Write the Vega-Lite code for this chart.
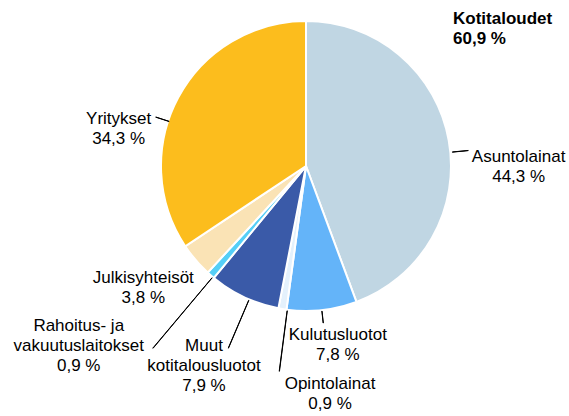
{
  "$schema": "https://vega.github.io/schema/vega-lite/v6.json",
  "width": 400,
  "height": 300,
  "autosize": {"type": "none"},
  "padding": {"left": 106, "top": 16, "right": 63, "bottom": 100},
  "background": "white",
  "config": {"view": {"stroke": null}, "font": "Liberation Sans"},
  "title": {
    "text": ["Kotitaloudet", "60,9 %"],
    "anchor": "start",
    "frame": "group",
    "align": "left",
    "baseline": "top",
    "dx": 347,
    "dy": 32,
    "offset": 0,
    "font": "Liberation Sans",
    "fontSize": 17,
    "fontWeight": "bold",
    "lineHeight": 20,
    "color": "#000000"
  },
  "data": {
    "values": [
      {"name": "Asuntolainat", "value": 44.3},
      {"name": "Kulutusluotot", "value": 7.8},
      {"name": "Opintolainat", "value": 0.9},
      {"name": "Muut\nkotitalousluotot", "value": 7.9},
      {"name": "Rahoitus- ja\nvakuutuslaitokset", "value": 0.9},
      {"name": "Julkisyhteisöt", "value": 3.8},
      {"name": "Yritykset", "value": 34.3}
    ]
  },
  "transform": [
    {"stack": "value", "groupby": [], "as": ["v0", "v1"]},
    {"calculate": "(datum.v0 + datum.v1) / 2", "as": "mid"},
    {"calculate": "datum.mid + 0.02", "as": "mid2"},
    {"calculate": "datum.name + '\\n' + replace(format(datum.value, '.1f'), '.', ',') + ' %'", "as": "label"}
  ],
  "layer": [
    {
      "mark": {"type": "arc", "radius": 145, "stroke": "white", "strokeWidth": 2},
      "encoding": {
        "theta": {"field": "v0", "type": "quantitative", "stack": null, "scale": {"domain": [0, 99.9], "nice": false, "zero": true}},
        "theta2": {"field": "v1"},
        "color": {
          "field": "name",
          "type": "nominal",
          "legend": null,
          "scale": {
            "domain": ["Asuntolainat", "Kulutusluotot", "Opintolainat", "Muut\nkotitalousluotot", "Rahoitus- ja\nvakuutuslaitokset", "Julkisyhteisöt", "Yritykset"],
            "range": ["#c0d6e3", "#64b4f9", "#e4f1fc", "#3a5aa8", "#55cff7", "#fae3b5", "#fcbd1d"]
          }
        }
      }
    },
    {
      "transform": [{"filter": "datum.name === 'Asuntolainat'"}],
      "mark": {"type": "arc", "radius": 163, "radius2": 147, "thetaOffset": 0.082, "theta2Offset": 0.082, "fill": "#000", "stroke": "#000", "strokeWidth": 1},
      "encoding": {"theta": {"field": "mid", "type": "quantitative", "stack": null, "scale": {"domain": [0, 99.9]}}, "theta2": {"field": "mid2"}}
    },
    {
      "transform": [{"filter": "datum.name === 'Kulutusluotot'"}],
      "mark": {"type": "arc", "radius": 158, "radius2": 146, "fill": "#000", "stroke": "#000", "strokeWidth": 1},
      "encoding": {"theta": {"field": "mid", "type": "quantitative", "stack": null, "scale": {"domain": [0, 99.9]}}, "theta2": {"field": "mid2"}}
    },
    {
      "transform": [{"filter": "datum.name === 'Opintolainat'"}],
      "mark": {"type": "arc", "radius": 207, "radius2": 146, "thetaOffset": -0.035, "theta2Offset": -0.035, "fill": "#000", "stroke": "#000", "strokeWidth": 1},
      "encoding": {"theta": {"field": "mid", "type": "quantitative", "stack": null, "scale": {"domain": [0, 99.9]}}, "theta2": {"field": "mid2"}}
    },
    {
      "transform": [{"filter": "test(/^Muut/, datum.name)"}],
      "mark": {"type": "arc", "radius": 198, "radius2": 146, "thetaOffset": -0.038, "theta2Offset": -0.038, "fill": "#000", "stroke": "#000", "strokeWidth": 1},
      "encoding": {"theta": {"field": "mid", "type": "quantitative", "stack": null, "scale": {"domain": [0, 99.9]}}, "theta2": {"field": "mid2"}}
    },
    {
      "transform": [{"filter": "test(/^Rahoitus/, datum.name)"}],
      "mark": {"type": "arc", "radius": 238, "radius2": 146, "thetaOffset": -0.019, "theta2Offset": -0.019, "fill": "#000", "stroke": "#000", "strokeWidth": 1},
      "encoding": {"theta": {"field": "mid", "type": "quantitative", "stack": null, "scale": {"domain": [0, 99.9]}}, "theta2": {"field": "mid2"}}
    },
    {
      "transform": [{"filter": "datum.name === 'Yritykset'"}],
      "mark": {"type": "arc", "radius": 158, "radius2": 144, "thetaOffset": -0.178, "theta2Offset": -0.178, "fill": "#000", "stroke": "#000", "strokeWidth": 1},
      "encoding": {"theta": {"field": "mid", "type": "quantitative", "stack": null, "scale": {"domain": [0, 99.9]}}, "theta2": {"field": "mid2"}}
    },
    {
      "transform": [{"filter": "datum.name === 'Asuntolainat'"}],
      "mark": {"type": "text", "radius": 213, "dx": 3, "dy": 29, "align": "center", "baseline": "middle", "lineBreak": "\n", "fontSize": 17, "lineHeight": 20, "font": "Liberation Sans", "color": "#000000"},
      "encoding": {"theta": {"field": "mid", "type": "quantitative", "stack": null, "scale": {"domain": [0, 99.9]}}, "text": {"field": "label"}}
    },
    {
      "transform": [{"filter": "datum.name === 'Kulutusluotot'"}],
      "mark": {"type": "text", "radius": 180, "dx": 12, "dy": -10, "align": "center", "baseline": "middle", "lineBreak": "\n", "fontSize": 17, "lineHeight": 20, "font": "Liberation Sans", "color": "#000000"},
      "encoding": {"theta": {"field": "mid", "type": "quantitative", "stack": null, "scale": {"domain": [0, 99.9]}}, "text": {"field": "label"}}
    },
    {
      "transform": [{"filter": "datum.name === 'Opintolainat'"}],
      "mark": {"type": "text", "radius": 227, "dx": 61, "dy": -6, "align": "center", "baseline": "middle", "lineBreak": "\n", "fontSize": 17, "lineHeight": 20, "font": "Liberation Sans", "color": "#000000"},
      "encoding": {"theta": {"field": "mid", "type": "quantitative", "stack": null, "scale": {"domain": [0, 99.9]}}, "text": {"field": "label"}}
    },
    {
      "transform": [{"filter": "test(/^Muut/, datum.name)"}],
      "mark": {"type": "text", "radius": 223, "dx": -7, "dy": -22, "align": "center", "baseline": "middle", "lineBreak": "\n", "fontSize": 17, "lineHeight": 20, "font": "Liberation Sans", "color": "#000000"},
      "encoding": {"theta": {"field": "mid", "type": "quantitative", "stack": null, "scale": {"domain": [0, 99.9]}}, "text": {"field": "label"}}
    },
    {
      "transform": [{"filter": "test(/^Rahoitus/, datum.name)"}],
      "mark": {"type": "text", "radius": 288, "dx": -38, "dy": -57, "align": "center", "baseline": "middle", "lineBreak": "\n", "fontSize": 17, "lineHeight": 20, "font": "Liberation Sans", "color": "#000000"},
      "encoding": {"theta": {"field": "mid", "type": "quantitative", "stack": null, "scale": {"domain": [0, 99.9]}}, "text": {"field": "label"}}
    },
    {
      "transform": [{"filter": "datum.name === 'Julkisyhteisöt'"}],
      "mark": {"type": "text", "radius": 202, "dx": -9, "dy": -19, "align": "center", "baseline": "middle", "lineBreak": "\n", "fontSize": 17, "lineHeight": 20, "font": "Liberation Sans", "color": "#000000"},
      "encoding": {"theta": {"field": "mid", "type": "quantitative", "stack": null, "scale": {"domain": [0, 99.9]}}, "text": {"field": "label"}}
    },
    {
      "transform": [{"filter": "datum.name === 'Yritykset'"}],
      "mark": {"type": "text", "radius": 191, "dx": -19, "dy": 43, "align": "center", "baseline": "middle", "lineBreak": "\n", "fontSize": 17, "lineHeight": 20, "font": "Liberation Sans", "color": "#000000"},
      "encoding": {"theta": {"field": "mid", "type": "quantitative", "stack": null, "scale": {"domain": [0, 99.9]}}, "text": {"field": "label"}}
    }
  ]
}
